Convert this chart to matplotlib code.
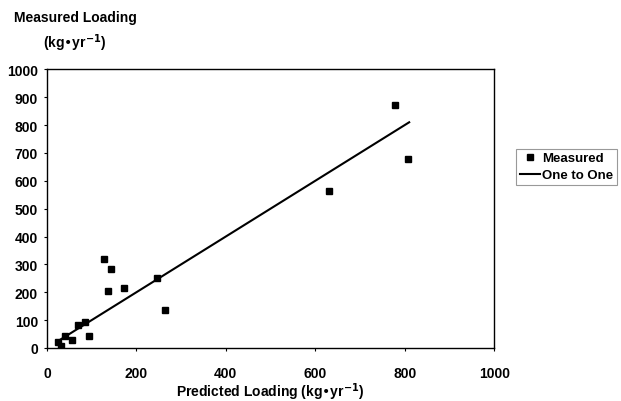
#!/usr/bin/env python3
# coding: utf-8

"""Measured vs predicted loading, with a one-to-one line."""

import matplotlib
matplotlib.use("Agg")
import matplotlib.pyplot as plt

predicted = [25, 31, 41, 57, 69, 84, 93, 128, 137, 143, 172, 247, 265, 630, 779, 808]
measured = [22, 8, 44, 27, 83, 92, 43, 320, 206, 284, 215, 250, 135, 562, 872, 677]
one_to_one = [22, 810]

ticks = [0, 200, 400, 600, 800, 1000]
yticks = list(range(0, 1001, 100))

plt.rcParams["font.family"] = ["Liberation Sans", "DejaVu Sans"]
plt.rcParams["font.weight"] = "bold"
plt.rcParams["font.size"] = 10
plt.rcParams["mathtext.default"] = "bf"

fig = plt.figure(figsize=(6.21, 4.02), dpi=100)
ax = fig.add_axes([0.0757, 0.132, 0.72, 0.693])

ax.plot(predicted, measured, "s", color="black", markersize=4.5, label="Measured", linestyle="none")
ax.plot(one_to_one, one_to_one, "-", color="black", linewidth=1.5, label="One to One")

ax.set_xlim(0, 1000)
ax.set_ylim(0, 1000)
ax.set_xticks(ticks)
ax.set_yticks(yticks)
ax.tick_params(direction="out", length=2.5, width=0.8)
ax.tick_params(axis="x", pad=10.5)
ax.tick_params(axis="y", pad=4)
for s in ax.spines.values():
    s.set_linewidth(1.0)

ax.set_xlabel("Predicted Loading (kg\u2022yr$^{-1}$)", fontweight="bold", labelpad=0.5)
fig.text(0.121, 0.955, "Measured Loading", ha="center", va="center", fontweight="bold")
fig.text(0.121, 0.893, "(kg\u2022yr$^{-1}$)", ha="center", va="center", fontweight="bold")

leg = ax.legend(loc="center left", bbox_to_anchor=(1.05, 0.65), frameon=True, fancybox=False,
                edgecolor="gray", handlelength=1.5, handletextpad=0.2, borderpad=0.25,
                labelspacing=0.4, borderaxespad=0, handleheight=0.6, fontsize=9.5)
leg.get_frame().set_linewidth(0.8)

fig.savefig("out.png", dpi=100)
